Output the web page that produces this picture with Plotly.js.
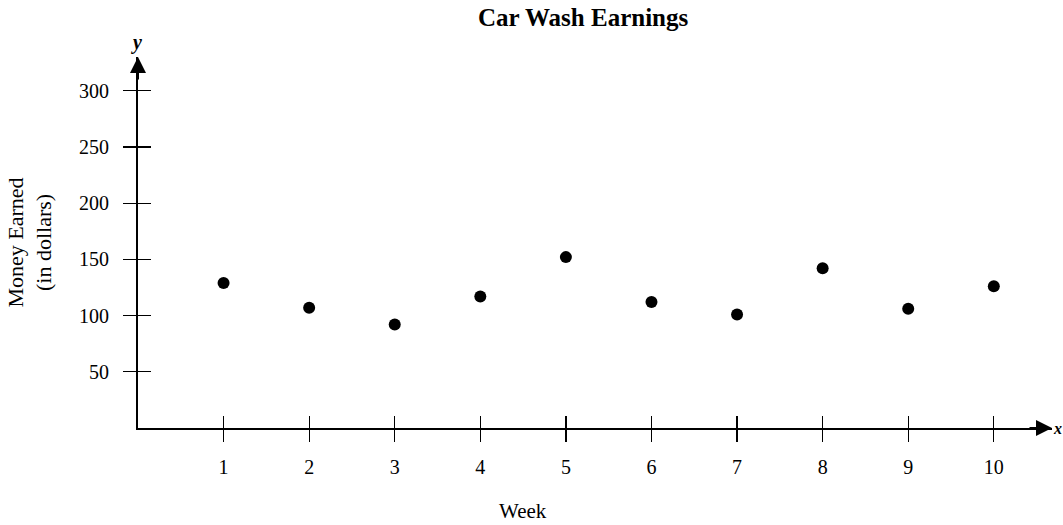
<!DOCTYPE html>
<html>
<head>
<meta charset="utf-8">
<script src="https://cdn.plot.ly/plotly-3.0.1.min.js"></script>
<style>html,body{margin:0;padding:0;background:#fff;}#chart{width:1063px;height:525px;}</style>
</head>
<body>
<div id="chart"></div>
<script>
const weeks = [1, 2, 3, 4, 5, 6, 7, 8, 9, 10];
const earnings = [129, 107, 92, 117, 152, 112, 101, 142, 106, 126];
const yTicks = [50, 100, 150, 200, 250, 300];
const xTicks = [1, 2, 3, 4, 5, 6, 7, 8, 9, 10];
const chartTitle = "Car Wash Earnings";
const xTitle = "Week";
const yTitleLines = ["Money Earned", "(in dollars)"];

const serif = "Liberation Serif, Times New Roman, serif";
const xRange = [0, 10.68];
const yRange = [0, 330];

const traces = [
  {
    type: "scatter", mode: "markers", x: weeks, y: earnings,
    marker: {color: "#000", size: 12}, hoverinfo: "x+y", cliponaxis: false
  },
  {
    type: "scatter", mode: "markers", x: weeks, y: earnings,
    xaxis: "x2", yaxis: "y2", marker: {opacity: 0}, hoverinfo: "skip", showlegend: false
  }
];

const layout = {
  width: 1063, height: 525,
  paper_bgcolor: "#fff", plot_bgcolor: "#fff",
  showlegend: false,
  margin: {l: 138, r: 11, t: 57, b: 97},
  font: {family: serif, color: "#000", size: 20},
  title: {
    text: "<b>" + chartTitle + "</b>",
    font: {family: serif, size: 25, color: "#000"},
    x: 0.487, xanchor: "center", xref: "paper",
    y: 0.968, yanchor: "middle", yref: "container"
  },
  xaxis: {
    range: xRange, tickvals: xTicks, ticktext: xTicks.map(String),
    showgrid: false, zeroline: false, showline: true, linecolor: "#000", linewidth: 2,
    ticks: "outside", ticklen: 12, tickwidth: 1.2, tickcolor: "#000",
    tickfont: {family: serif, size: 20, color: "#000"}, ticklabelstandoff: 8,
    fixedrange: true
  },
  yaxis: {
    range: yRange, tickvals: yTicks, ticktext: yTicks.map(String),
    showgrid: false, zeroline: false, showline: true, linecolor: "#000", linewidth: 2,
    ticks: "outside", ticklen: 13, tickwidth: 1.2, tickcolor: "#000",
    tickfont: {family: serif, size: 20, color: "#000"}, ticklabelstandoff: 10,
    fixedrange: true
  },
  xaxis2: {
    range: xRange, tickvals: xTicks, overlaying: "x", anchor: "y2", side: "bottom",
    showticklabels: false, showgrid: false, zeroline: false, showline: false,
    ticks: "inside", ticklen: 12, tickwidth: 1.2, tickcolor: "#000", fixedrange: true
  },
  yaxis2: {
    range: yRange, tickvals: yTicks, overlaying: "y", anchor: "x2", side: "left",
    showticklabels: false, showgrid: false, zeroline: false, showline: false,
    ticks: "inside", ticklen: 13, tickwidth: 1.2, tickcolor: "#000", fixedrange: true
  },
  annotations: [
    {
      xref: "paper", yref: "paper", x: 0, y: 0.5, xshift: -109,
      xanchor: "center", yanchor: "middle", textangle: -90, showarrow: false,
      text: yTitleLines.join("<br>"), font: {family: serif, size: 22, color: "#000"}
    },
    {
      xref: "paper", yref: "paper", x: 0.421, y: 0, yshift: -83,
      xanchor: "center", yanchor: "middle", showarrow: false,
      text: xTitle, font: {family: serif, size: 21, color: "#000"}
    },
    {
      xref: "x", yref: "y", x: xRange[1], y: 0, ax: -24, ay: 0,
      showarrow: true, arrowhead: 2, arrowsize: 1.6, arrowwidth: 2, arrowcolor: "#000", text: ""
    },
    {
      xref: "x", yref: "y", x: 0, y: yRange[1], ax: 0, ay: 24,
      showarrow: true, arrowhead: 2, arrowsize: 1.6, arrowwidth: 2, arrowcolor: "#000", text: ""
    },
    {
      xref: "x", yref: "y", x: xRange[1], y: 0, xshift: 0, xanchor: "left", yanchor: "middle",
      borderpad: 0, showarrow: false, text: "<b><i>x</i></b>", font: {family: serif, size: 16, color: "#000"}
    },
    {
      xref: "x", yref: "y", x: 0, y: yRange[1], yshift: 15, xshift: -2, xanchor: "center", yanchor: "middle",
      showarrow: false, text: "<b><i>y</i></b>", font: {family: serif, size: 20, color: "#000"}
    }
  ]
};

Plotly.newPlot("chart", traces, layout, {displayModeBar: false, staticPlot: true});
</script>
</body>
</html>
